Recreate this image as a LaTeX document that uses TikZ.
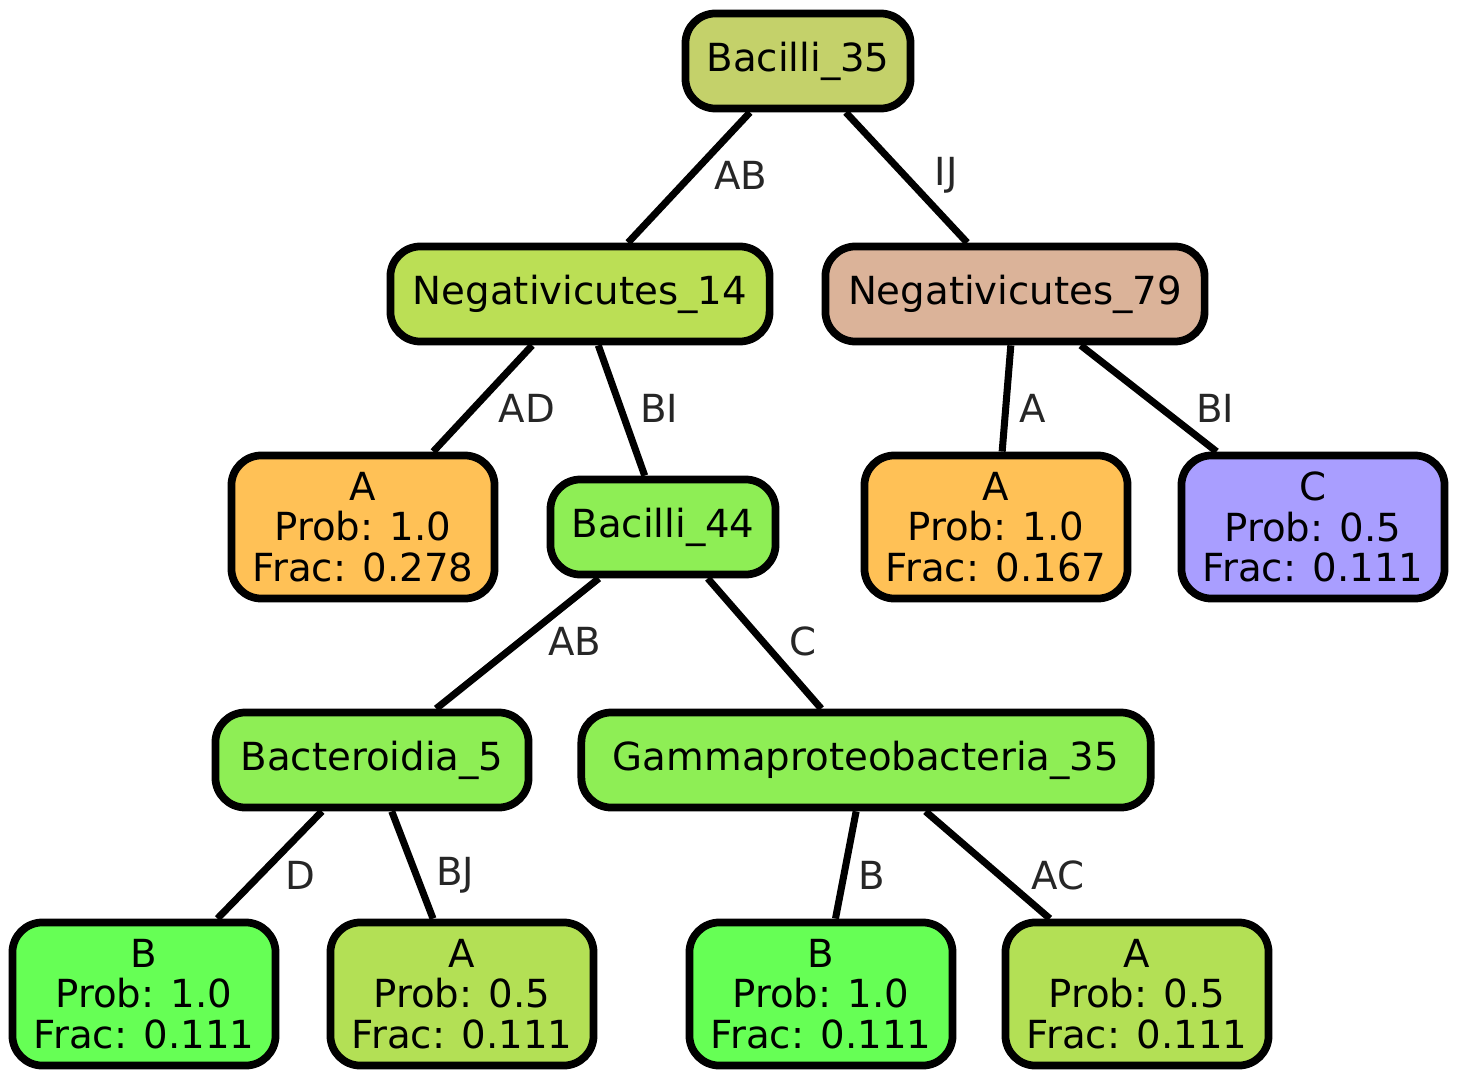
\documentclass[tikz,border=0pt]{standalone}
\usepackage{fontspec}
\setmainfont{DejaVu Sans}
\definecolor{cBthf}{HTML}{C4D16A}
\definecolor{cNeg}{HTML}{BBDF55}
\definecolor{cNegb}{HTML}{DBB399}
\definecolor{cOrange}{HTML}{FFC156}
\definecolor{cGreen}{HTML}{8EEE55}
\definecolor{cViolet}{HTML}{A99EFF}
\definecolor{cBright}{HTML}{66FF55}
\definecolor{cLime}{HTML}{B3E055}
\definecolor{cLabel}{HTML}{262626}
\begin{document}
\begin{tikzpicture}[x=0.01cm,y=-0.01cm,
 box/.style={draw=black, line width=2.2pt, rounded corners=0.3cm, inner sep=0pt, align=center, font=\fontsize{11}{11.6}\selectfont, text=black},
 inner/.style={box, minimum height=0.95cm},
 leaf/.style={box, minimum width=2.63cm, minimum height=1.43cm},
 conn/.style={line width=2pt},
 lbl/.style={font=\fontsize{11}{13}\selectfont, text=cLabel, inner sep=0pt}]
\useasboundingbox (0,0) rectangle (1458,1079);
% internal nodes
\node[inner, fill=cBthf, minimum width=2.25cm] (b35) at (798,61) {Bacilli\_35};
\node[inner, fill=cNeg, minimum width=3.79cm] (n14) at (580,294) {Negativicutes\_14};
\node[inner, fill=cNegb, minimum width=3.79cm] (n79) at (1015,294) {Negativicutes\_79};
\node[inner, fill=cGreen, minimum width=2.25cm] (b44) at (663,527) {Bacilli\_44};
\node[inner, fill=cGreen, minimum width=3.13cm] (bac5) at (372,760) {Bacteroidia\_5};
\node[inner, fill=cGreen, minimum width=5.69cm] (gam) at (866,760) {Gammaproteobacteria\_35};
% leaves
\node[leaf, fill=cOrange] (l1) at (363,527) {A\\Prob: 1.0\\Frac: 0.278};
\node[leaf, fill=cOrange] (l2) at (996,527) {A\\Prob: 1.0\\Frac: 0.167};
\node[leaf, fill=cViolet] (l3) at (1313,527) {C\\Prob: 0.5\\Frac: 0.111};
\node[leaf, fill=cBright] (l4) at (144,994) {B\\Prob: 1.0\\Frac: 0.111};
\node[leaf, fill=cLime] (l5) at (462,994) {A\\Prob: 0.5\\Frac: 0.111};
\node[leaf, fill=cBright] (l6) at (821,994) {B\\Prob: 1.0\\Frac: 0.111};
\node[leaf, fill=cLime] (l7) at (1137,994) {A\\Prob: 0.5\\Frac: 0.111};
% connectors
\draw[conn] (b35) -- (n14);
\draw[conn] (b35) -- (n79);
\draw[conn] (n14) -- (l1);
\draw[conn] (n14) -- (b44);
\draw[conn] (n79) -- (l2);
\draw[conn] (n79) -- (l3);
\draw[conn] (b44) -- (bac5);
\draw[conn] (b44) -- (gam);
\draw[conn] (bac5) -- (l4);
\draw[conn] (bac5) -- (l5);
\draw[conn] (gam) -- (l6);
\draw[conn] (gam) -- (l7);
% edge labels
\node[lbl] (e1) at (741,175) {AB};
\node[lbl] (e2) at (946,175) {IJ};
\node[lbl] (e3) at (527,408) {AD};
\node[lbl] (e4) at (659,408) {BI};
\node[lbl] (e5) at (1033,408) {A};
\node[lbl] (e6) at (1215,408) {BI};
\node[lbl] (e7) at (575,641) {AB};
\node[lbl] (e8) at (803,641) {C};
\node[lbl] (e9) at (300,875) {D};
\node[lbl] (e10) at (455,875) {BJ};
\node[lbl] (e11) at (872,875) {B};
\node[lbl] (e12) at (1058,875) {AC};
\end{tikzpicture}
\end{document}
